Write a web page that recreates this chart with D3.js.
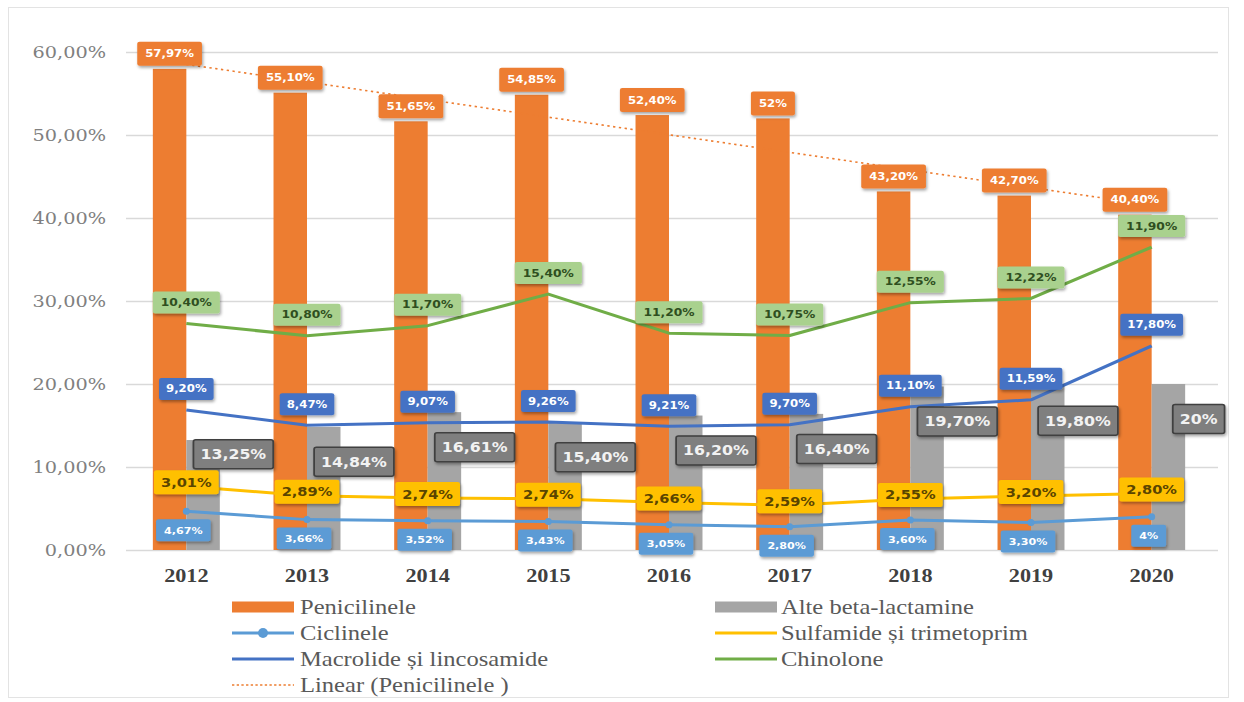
<!DOCTYPE html>
<html>
<head>
<meta charset="utf-8">
<script src="https://cdn.jsdelivr.net/npm/d3@7"></script>
<style>
  html, body { margin: 0; padding: 0; background: #ffffff; }
  svg { display: block; }
</style>
</head>
<body>
<svg id="chart" width="1244" height="702"></svg>
<script>
// ---------------- DATA ----------------
const years = ["2012", "2013", "2014", "2015", "2016", "2017", "2018", "2019", "2020"];
const penicilinele = [57.97, 55.10, 51.65, 54.85, 52.40, 52.00, 43.20, 42.70, 40.40];
const alteBeta = [13.25, 14.84, 16.61, 15.40, 16.20, 16.40, 19.70, 19.80, 20.00];
const ciclinele = [4.67, 3.66, 3.52, 3.43, 3.05, 2.80, 3.60, 3.30, 4.00];
const sulfamide = [3.01, 2.89, 2.74, 2.74, 2.66, 2.59, 2.55, 3.20, 2.80];
const macrolide = [9.20, 8.47, 9.07, 9.26, 9.21, 9.70, 11.10, 11.59, 17.80];
const chinolone = [10.40, 10.80, 11.70, 15.40, 11.20, 10.75, 12.55, 12.22, 11.90];
const yTicks = [0, 10, 20, 30, 40, 50, 60];
const legendNames = ["Penicilinele", "Alte beta-lactamine", "Ciclinele", "Sulfamide și trimetoprim",
                     "Macrolide și lincosamide", "Chinolone", "Linear (Penicilinele )"];

// ---------------- STYLE / LAYOUT ----------------
const SX = 1.17; // horizontal stretch of the original picture
const C = {
  pen: "#ed7d31", alte: "#a5a5a5", cic: "#5b9bd5", sul: "#ffc000", mac: "#4472c4", chi: "#70ad47",
  grid: "#d9d9d9", axisText: "#808080", legendText: "#595959"
};
const plotL = 126, plotR = 1212, plotTop = 52, plotBottom = 550;

const svg = d3.select("#chart");
const defs = svg.append("defs");
const f = defs.append("filter").attr("id", "sh").attr("x", "-20%").attr("y", "-30%").attr("width", "150%").attr("height", "180%");
f.append("feDropShadow").attr("dx", 1).attr("dy", 2).attr("stdDeviation", 1.4).attr("flood-color", "#000").attr("flood-opacity", 0.35);

// frame
svg.append("rect").attr("x", 8.5).attr("y", 7.5).attr("width", 1220).attr("height", 690)
  .attr("fill", "#fff").attr("stroke", "#e3e3e3").attr("stroke-width", 1);

const g = svg.append("g").attr("transform", `scale(${SX},1)`);
const fx = v => v / SX;

const x0 = d3.scaleBand().domain(years).range([fx(plotL), fx(plotR)]).paddingInner(0.445).paddingOuter(0.2225);
const x1 = d3.scaleBand().domain(["pen", "alte"]).range([0, x0.bandwidth()]);
const y = d3.scaleLinear().domain([0, 60]).range([plotBottom, plotTop]);
const cx = yr => x0(yr) + x0.bandwidth() / 2;

// gridlines
const yAxis = d3.axisLeft(y).tickValues(yTicks).tickSize(-(fx(1218) - fx(plotL)))
  .tickFormat(d => d.toFixed(2).replace(".", ",") + "%");
const ya = g.append("g").attr("transform", `translate(${fx(plotL)},0)`).call(yAxis);
ya.select(".domain").remove();
ya.selectAll(".tick line").attr("stroke", C.grid).attr("stroke-width", 1.3);
ya.selectAll(".tick text").attr("x", -fx(20)).attr("fill", C.axisText)
  .style("font-family", "'DejaVu Serif', serif").style("font-size", "16.5px");

// x axis labels
const xAxis = d3.axisBottom(x0).tickSize(0).tickPadding(0);
const xa = g.append("g").attr("transform", `translate(0,${plotBottom})`).call(xAxis);
xa.select(".domain").remove();
xa.selectAll(".tick text").attr("y", 19).attr("dy", "0.71em").attr("fill", "#404040")
  .style("font-family", "'Liberation Serif', serif").style("font-weight", "bold").style("font-size", "19px");

// bars
const barData = years.map((yr, i) => ({ yr, pen: penicilinele[i], alte: alteBeta[i] }));
const bg = g.append("g").selectAll("g").data(barData).join("g").attr("transform", d => `translate(${x0(d.yr)},0)`);
bg.selectAll("rect").data(d => [{ k: "pen", v: d.pen }, { k: "alte", v: d.alte }]).join("rect")
  .attr("x", d => x1(d.k)).attr("width", x1.bandwidth())
  .attr("y", d => y(d.v)).attr("height", d => y(0) - y(d.v))
  .attr("fill", d => d.k === "pen" ? C.pen : C.alte);

// linear trend of Penicilinele (least squares)
const n = penicilinele.length;
const mx = d3.mean(d3.range(n)), my = d3.mean(penicilinele);
const slope = d3.sum(d3.range(n), i => (i - mx) * (penicilinele[i] - my)) / d3.sum(d3.range(n), i => (i - mx) ** 2);
const icpt = my - slope * mx;
g.append("line")
  .attr("x1", cx(years[0])).attr("y1", y(icpt))
  .attr("x2", cx(years[n - 1])).attr("y2", y(icpt + slope * (n - 1)))
  .attr("stroke", C.pen).attr("stroke-width", 1.6).attr("stroke-dasharray", "2,3");

// stacked lines
const cum1 = ciclinele.slice();
const cum2 = cum1.map((v, i) => v + sulfamide[i]);
const cum3 = cum2.map((v, i) => v + macrolide[i]);
const cum4 = cum3.map((v, i) => v + chinolone[i]);
const line = d3.line().x((d, i) => cx(years[i])).y(d => y(d));
[[cum1, C.cic], [cum2, C.sul], [cum3, C.mac], [cum4, C.chi]].forEach(([arr, col]) => {
  g.append("path").datum(arr).attr("d", line).attr("fill", "none").attr("stroke", col)
    .attr("stroke-width", 3).attr("stroke-linejoin", "round");
});
g.append("g").selectAll("ellipse").data(cum1).join("ellipse")
  .attr("cx", (d, i) => cx(years[i])).attr("cy", d => y(d)).attr("rx", fx(3.5)).attr("ry", 3.5).attr("fill", C.cic);

// data labels
const fmt = v => (Math.abs(v % 1) < 1e-9 ? String(v) : v.toFixed(2).replace(".", ",")) + "%";
function labels(vals, posFn, o) {
  const lg = g.append("g");
  vals.forEach((v, i) => {
    const p = posFn(v, i);
    const cell = lg.append("g");
    const t = cell.append("text").attr("x", p[0]).attr("y", p[1]).attr("dy", "0.36em").attr("text-anchor", "middle")
      .attr("fill", o.color).style("font-family", "'DejaVu Sans', sans-serif").style("font-weight", "bold")
      .style("font-size", o.fs + "px").text(fmt(v));
    const w = t.node().getComputedTextLength() + fx(o.pad), h = o.h;
    cell.insert("rect", "text").attr("x", p[0] - w / 2).attr("y", p[1] - h / 2).attr("width", w).attr("height", h)
      .attr("rx", 2).attr("fill", o.fill).attr("stroke", o.stroke || "none").attr("stroke-width", o.sw || 0)
      .attr("filter", "url(#sh)");
  });
}
const penX = yr => x0(yr) + x1("pen") + x1.bandwidth() / 2;
const sulY = i => y(cum2[i]) - 4;
labels(penicilinele, (v, i) => [penX(years[i]), y(v) - 15], { pad: 16, h: 24, fill: C.pen, color: "#ffffff", fs: 10 });
labels(chinolone, (v, i) => [cx(years[i]), y(cum4[i]) - 21], { pad: 16, h: 22, fill: "#a9d18e", color: "#2f4f1f", fs: 10.5 });
labels(macrolide, (v, i) => [cx(years[i]), y(cum3[i]) - 21], { pad: 14, h: 22, fill: "#4472c4", color: "#ffffff", fs: 10 });
labels(alteBeta, (v, i) => [cx(years[i]) + fx(47), Math.min(y(v) + 35, sulY(i) - 28)], { pad: 14, h: 29, fill: "#7f7f7f", stroke: "#3f3f3f", sw: 1.5, color: "#f2f2f2", fs: 13.5 });
labels(sulfamide, (v, i) => [cx(years[i]), sulY(i)], { pad: 14, h: 24, fill: "#ffc000", color: "#5a4500", fs: 12.5 });
labels(ciclinele, (v, i) => [cx(years[i]) - fx(3), y(cum1[i]) + 19], { pad: 16, h: 22, fill: "#5b9bd5", color: "#ffffff", fs: 9.5 });

// legend
const leg = g.append("g");
const rows = [607, 633, 659, 685];
const items = [
  { name: legendNames[0], type: "bar", col: C.pen, c: 0, r: 0 },
  { name: legendNames[1], type: "bar", col: C.alte, c: 1, r: 0 },
  { name: legendNames[2], type: "marker", col: C.cic, c: 0, r: 1 },
  { name: legendNames[3], type: "line", col: C.sul, c: 1, r: 1 },
  { name: legendNames[4], type: "line", col: C.mac, c: 0, r: 2 },
  { name: legendNames[5], type: "line", col: C.chi, c: 1, r: 2 },
  { name: legendNames[6], type: "dot", col: C.pen, c: 0, r: 3 }
];
const colSw = [[232, 294, 300], [715, 777, 781]];
items.forEach(it => {
  const [a, b, t] = colSw[it.c];
  const yy = rows[it.r];
  if (it.type === "bar") {
    leg.append("rect").attr("x", fx(a)).attr("y", yy - 5.5).attr("width", fx(b - a)).attr("height", 11).attr("fill", it.col);
  } else {
    leg.append("line").attr("x1", fx(a)).attr("x2", fx(b)).attr("y1", yy).attr("y2", yy).attr("stroke", it.col)
      .attr("stroke-width", it.type === "dot" ? 1.4 : 3).attr("stroke-dasharray", it.type === "dot" ? "2,2" : null);
    if (it.type === "marker") leg.append("ellipse").attr("cx", fx((a + b) / 2)).attr("cy", yy).attr("rx", fx(5)).attr("ry", 5).attr("fill", it.col);
  }
  leg.append("text").attr("x", fx(t)).attr("y", yy).attr("dy", "0.34em").attr("fill", C.legendText)
    .style("font-family", "'Liberation Serif', 'Times New Roman', serif").style("font-size", "21px").text(it.name);
});
</script>
</body>
</html>
